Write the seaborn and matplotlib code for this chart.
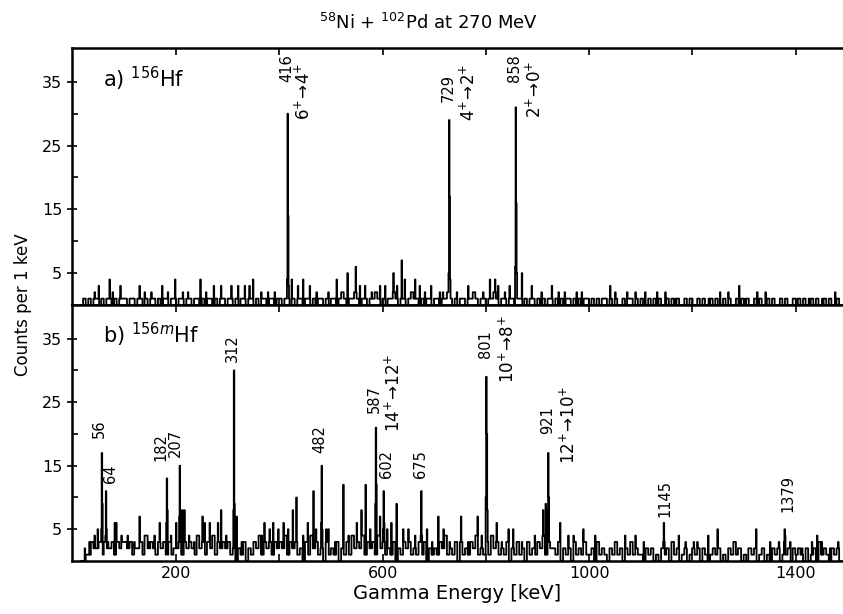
import numpy as np
import matplotlib
matplotlib.use("Agg")
import matplotlib.pyplot as plt
import seaborn as sns

# 1 keV channels
energy = np.arange(15, 1490)

# background counts per 5 keV bin (0-1490 keV), 100 keV per row
top_bg_rows = ["00001010110101101011",
               "10110110101101011011",
               "01101101101011010110",
               "11010110110101101101",
               "10110101101101011010",
               "11012101121011011210",
               "10112101101211010110",
               "11011210101101121011",
               "01121011011011010110",
               "10101101010110101011",
               "01010110101001011010",
               "10010101001010100101",
               "00101001010010100101",
               "01001010010100101001",
               "010100101001010010"]
bot_bg_rows = ["00000113223132231323",
               "32312231423213231312",
               "23132321423132413232",
               "31202130213241323132",
               "32413231203142312031",
               "21302131423241323142",
               "31213021323121313021",
               "21324121303121324121",
               "31423121302131203121",
               "32413221302120312131",
               "12031210213120213121",
               "10212010212031201201",
               "21202101212010213120",
               "10212012010212011202",
               "121020120312102120"]
top_bg = [int(c) for c in "".join(top_bg_rows)]
bot_bg = [int(c) for c in "".join(bot_bg_rows)]

# small single-channel spikes (keV, counts)
top_spike_e = [42, 50, 71, 77, 92, 129, 139, 152, 173, 184, 198, 213, 223, 247,
               258, 273, 287, 307, 320, 333, 342, 349, 365, 378, 391, 424, 436,
               446, 459, 472, 495, 511, 521, 532, 548, 556, 566, 579, 595, 605,
               621, 628, 637, 643, 663, 672, 682, 694, 711, 717, 744, 766, 795,
               808, 818, 824, 837, 846, 870, 889, 908, 928, 941, 953, 976, 986,
               1041, 1051, 1074, 1090, 1109, 1132, 1148, 1168, 1200, 1232, 1254,
               1270, 1291, 1303, 1326, 1342, 1374, 1400, 1426, 1452, 1477]
top_spike_h = [2, 3, 4, 2, 3, 3, 2, 2, 3, 2, 4, 2, 2, 4,
               2, 3, 3, 3, 3, 3, 3, 4, 2, 2, 2, 4, 3,
               4, 3, 2, 2, 4, 2, 5, 6, 3, 3, 2, 3, 3,
               5, 3, 7, 4, 4, 3, 2, 3, 2, 2, 2, 3, 2,
               4, 4, 3, 2, 3, 5, 3, 2, 3, 2, 2, 2, 2,
               3, 2, 2, 2, 2, 2, 2, 1, 1, 1, 2,
               2, 3, 1, 2, 2, 1, 1, 1, 1, 2]
bot_spike_e = [23, 32, 42, 48, 68, 81, 84, 94, 106, 119, 129, 139, 148, 158, 168,
               190, 200, 212, 216, 225, 235, 251, 255, 265, 274, 281, 287, 297,
               317, 327, 340, 353, 366, 371, 381, 388, 398, 408, 417, 426, 433,
               446, 455, 466, 471, 491, 495, 508, 524, 534, 550, 559, 567, 576,
               595, 609, 617, 627, 640, 650, 663, 686, 696, 708, 718, 730, 752,
               766, 784, 792, 811, 821, 831, 844, 853, 870, 882, 895, 911, 916,
               944, 960, 970, 989, 1012, 1044, 1070, 1080, 1090, 1106, 1122,
               1174, 1187, 1203, 1210, 1231, 1249, 1270, 1289, 1309, 1324, 1335,
               1351, 1368, 1390, 1413, 1432, 1442, 1451, 1467, 1483]
bot_spike_h = [2, 3, 4, 5, 3, 6, 6, 4, 4, 3, 7, 4, 3, 4, 6,
               4, 6, 8, 8, 4, 3, 7, 6, 6, 4, 6, 8, 4,
               7, 3, 2, 3, 4, 6, 5, 6, 5, 6, 5, 8, 10,
               4, 6, 11, 5, 5, 5, 3, 12, 4, 6, 8, 12, 5,
               7, 5, 6, 9, 5, 5, 4, 5, 3, 7, 5, 3, 7,
               3, 7, 4, 4, 6, 3, 5, 5, 3, 3, 4, 8, 9,
               6, 4, 4, 5, 4, 2, 4, 3, 4, 3, 2,
               4, 3, 3, 3, 4, 5, 2, 2, 2, 5, 2,
               3, 3, 3, 2, 3, 4, 3, 2, 3]

# labelled gamma lines: energy and channel profile around the centroid
top_peak_e = [416, 729, 858]
top_peak_prof = [[4, 30, 14, 3], [5, 29, 17, 4], [6, 31, 16, 5]]
bot_peak_e = [56, 64, 182, 207, 312, 482, 587, 602, 675, 801, 921, 1145, 1379]
bot_peak_prof = [[5, 17, 9], [4, 11, 5], [6, 13, 8], [7, 15, 8], [8, 30, 9],
                 [6, 15, 5], [9, 21, 12], [5, 11, 6], [4, 11, 4],
                 [10, 29, 20, 8], [8, 17, 10], [3, 6, 3], [3, 5, 4]]

# annotations: text, energy of text centre, count at text bottom
top_labels = ["416", r"$6^{+}\!\rightarrow\!4^{+}$", "729", r"$4^{+}\!\rightarrow\!2^{+}$",
              "858", r"$2^{+}\!\rightarrow\!0^{+}$"]
top_label_e = [415, 447, 727, 768, 856, 896]
top_label_y = [34.9, 29.0, 31.9, 28.8, 34.9, 29.3]
bot_labels = ["56", "64", "182", "207", "312", "482", "587",
              r"$14^{+}\!\rightarrow\!12^{+}$", "602", "675", "801",
              r"$10^{+}\!\rightarrow\!8^{+}$", "921", r"$12^{+}\!\rightarrow\!10^{+}$",
              "1145", "1379"]
bot_label_e = [51, 72, 171, 198, 308, 478, 583, 622, 607, 674, 800, 843, 920, 962, 1146, 1385]
bot_label_y = [19.4, 12.3, 15.8, 16.3, 31.4, 17.0, 23.3, 20.3, 13.1, 13.1, 31.9, 28.0,
               20.0, 15.3, 6.9, 7.7]

x_ticks = [200, 400, 600, 800, 1000, 1200, 1400]
x_ticklabels = ["200", "", "600", "", "1000", "", "1400"]


def build_counts(bg, spike_e, spike_h, peak_e, peak_prof):
    counts = np.array(bg)[energy // 5].astype(float)
    for e, h in zip(spike_e, spike_h):
        counts[e - energy[0]] = max(counts[e - energy[0]], h)
    for e, prof in zip(peak_e, peak_prof):
        i = e - energy[0] - 1
        counts[i:i + len(prof)] = prof
    return counts


top_counts = build_counts(top_bg, top_spike_e, top_spike_h, top_peak_e, top_peak_prof)
bot_counts = build_counts(bot_bg, bot_spike_e, bot_spike_h, bot_peak_e, bot_peak_prof)

sns.set_style("ticks")
plt.rcParams["font.family"] = ["DejaVu Sans"]
plt.rcParams["mathtext.fontset"] = "dejavusans"
for key in ["text.color", "axes.labelcolor", "xtick.color", "ytick.color", "axes.edgecolor"]:
    plt.rcParams[key] = "black"

fig = plt.figure(figsize=(8.43, 6.14), dpi=100)
ax_top = fig.add_axes([72 / 843, 1 - 305 / 614, 771 / 843, 257 / 614])
ax_bot = fig.add_axes([72 / 843, 1 - 561 / 614, 771 / 843, 256 / 614])

for ax, counts, labels, le, ly in [(ax_top, top_counts, top_labels, top_label_e, top_label_y),
                                   (ax_bot, bot_counts, bot_labels, bot_label_e, bot_label_y)]:
    sns.lineplot(x=energy, y=counts, ax=ax, color="black", lw=1.3,
                 drawstyle="steps-mid", estimator=None)
    ax.set_xlim(-2, 1492)
    ax.set_ylim(0, 40.3)
    ax.set_yticks([5, 15, 25, 35])
    ax.set_yticks([10, 20, 30], minor=True)
    ax.set_xticks(x_ticks)
    ax.tick_params(axis="y", which="major", direction="inout", length=7, width=1.2, labelsize=11.5)
    ax.tick_params(axis="y", which="minor", direction="in", length=4, width=1.2)
    ax.tick_params(axis="x", direction="in", length=5, width=1.2, top=True, labelsize=11.5)
    ax.spines["right"].set_visible(False)
    for s in ["left", "top", "bottom"]:
        ax.spines[s].set_linewidth(1.8)
    ax.set_xlabel("")
    ax.set_ylabel("")
    for t, e, y in zip(labels, le, ly):
        size = 12 if t.startswith("$") else 10.5
        ax.text(e, y, t, rotation=90, ha="center", va="bottom", fontsize=size)

ax_top.set_xticklabels([])
ax_bot.set_xticklabels(x_ticklabels)

ax_top.text(58, 33.3, r"a) $^{156}$Hf", fontsize=15, ha="left", va="bottom")
ax_bot.text(58, 33.3, r"b) $^{156m}$Hf", fontsize=15, ha="left", va="bottom")

fig.text(0.508, 0.962, r"$^{58}$Ni + $^{102}$Pd at 270 MeV", ha="center", va="center", fontsize=13)
fig.text(0.027, 1 - 305 / 614, "Counts per 1 keV", rotation=90, ha="center", va="center", fontsize=12)
ax_bot.set_xlabel("Gamma Energy [keV]", fontsize=14, labelpad=2)

fig.savefig("out.png", dpi=100)
